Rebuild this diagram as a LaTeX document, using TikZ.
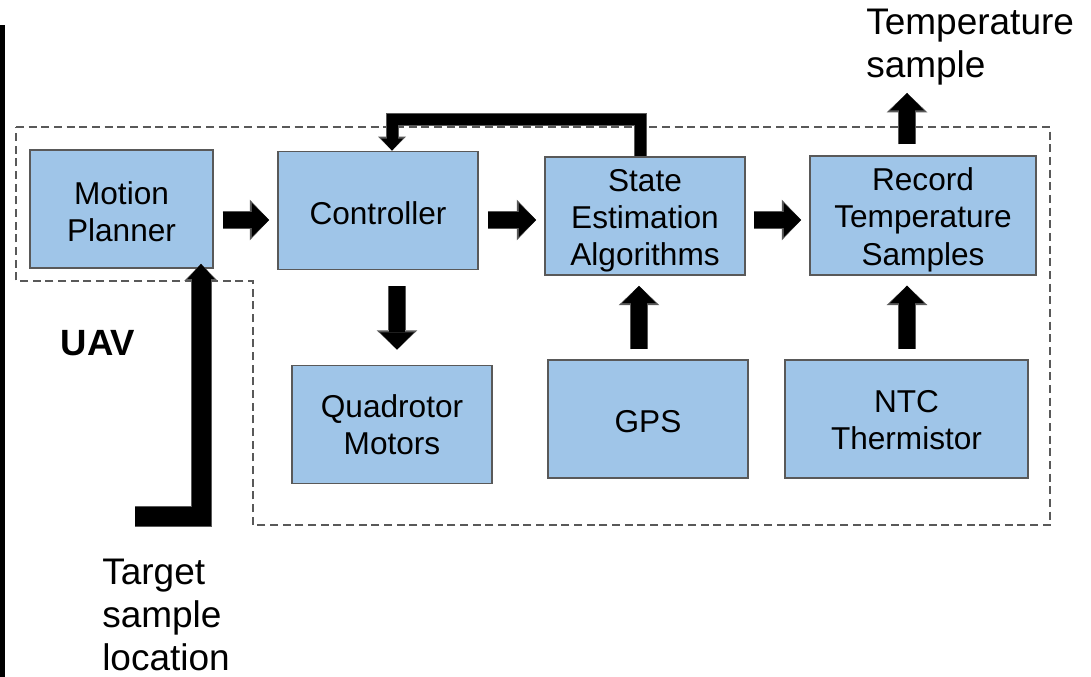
\documentclass[tikz,border=0pt]{standalone}
\usepackage{fontspec}
\setmainfont{Liberation Sans}
\usetikzlibrary{arrows.meta, calc}
\definecolor{uavblue}{RGB}{159,197,232}
\definecolor{uavgray}{RGB}{89,89,89}

\tikzset{
  box/.style={draw=uavgray, fill=uavblue, line width=1.3pt, align=center, inner sep=0pt,
    font=\fontsize{23.7}{28}\selectfont},
  % push the text a little below the middle of a box
  drop/.style={execute at begin node={\rule{0pt}{#1}}},
  lbl/.style={align=left, inner sep=0pt, font=\fontsize{27.75}{32.25}\selectfont},
  % block arrow: shaft, head width, head length, then the same for the grey rim
  fat/.style n args={6}{line width=#1, black, line join=miter,
    -{Triangle[width=#2, length=#3, line width=0pt]},
    preaction={draw=uavgray, line width=#4, -{Triangle[width=#5, length=#6, line width=0pt]}}},
  bigarrow/.style={fat={12pt}{25.5pt}{13pt}{13.5pt}{30.5pt}{14.5pt}},
  slimarrow/.style={fat={8.25pt}{16.5pt}{9pt}{9.75pt}{21pt}{10.5pt}},
  longarrow/.style={fat={14.25pt}{20.25pt}{11.25pt}{15.75pt}{25pt}{12.75pt}}
}

\begin{document}
\begin{tikzpicture}[x=0.75pt, y=-0.75pt]
\useasboundingbox (0,0) rectangle (1091,677);

% strip at the left edge
\fill[black] (0,25) rectangle (5,677);

% UAV boundary
\draw[uavgray, line width=1.2pt, dash pattern=on 6pt off 3.5pt]
  (16,127) -- (1050,127) -- (1050,525) -- (253,525) -- (253,281) -- (16,281) -- cycle;
\node[font=\fontsize{27.4}{32}\selectfont\bfseries] (uav) at (98,343) {UAV};

% blocks
\node[box, minimum width=137pt, minimum height=88.5pt] (mp) at (121.5,209) {\rule{0pt}{21pt}Motion\\Planner};
\node[box, drop=20.5pt, minimum width=150pt, minimum height=88.5pt] (ctrl) at (378,210.5) {Controller};
\node[box, minimum width=150pt, minimum height=88.5pt] (se) at (645,216) {\rule{0pt}{23.5pt}State\\Estimation\\Algorithms};
\node[box, minimum width=169.5pt, minimum height=89pt] (rec) at (923,215.5) {\rule{0pt}{23.5pt}Record\\Temperature\\Samples};
\node[box, minimum width=150pt, minimum height=88.5pt] (quad) at (392,424.5) {Quadrotor\\Motors};
\node[box, drop=20.5pt, minimum width=150pt, minimum height=89pt] (gps) at (648,419) {GPS};
\node[box, minimum width=182pt, minimum height=89pt] (ntc) at (906.5,419) {\rule{0pt}{18.5pt}NTC\\Thermistor};

% outside labels
\node[lbl, anchor=west] (tsample) at (866,47) {Temperature\\sample};
\node[lbl, anchor=west] (target) at (102,615) {Target\\sample\\location};

% helper coordinates
\coordinate (row) at (0,220);
\coordinate (dn) at (397,0);
\coordinate (upg) at (639,0);
\coordinate (upn) at (907,0);
\coordinate (fbs) at (640,0);
\coordinate (fbe) at (392,0);
\coordinate (tx) at (201,0);
\coordinate (out) at (907,93);
\coordinate (tgt) at (135,516);

% arrows
\draw[bigarrow, shorten <=6.75pt, shorten >=6pt] (mp.east |- row) -- (ctrl.west |- row);
\draw[bigarrow, shorten <=6.75pt, shorten >=6pt] (ctrl.east |- row) -- (se.west |- row);
\draw[bigarrow, shorten <=6pt, shorten >=6pt] (se.east |- row) -- (rec.west |- row);
\draw[bigarrow, shorten <=12pt, shorten >=11.25pt] (ctrl.south -| dn) -- (quad.north -| dn);
\draw[bigarrow, shorten <=7pt, shorten >=7.5pt] (gps.north -| upg) -- (se.south -| upg);
\draw[bigarrow, shorten <=7.5pt, shorten >=7.5pt] (ntc.north -| upn) -- (rec.south -| upn);
\draw[bigarrow, shorten <=8.25pt] (rec.north -| upn) -- (out);

% feedback to the controller
\draw[slimarrow] (se.north -| fbs) -- ++(0,-37) -| (ctrl.north -| fbe);

% target location input
\draw[longarrow, shorten >=-3.75pt] (tgt) -| (mp.south -| tx);

\end{tikzpicture}
\end{document}
